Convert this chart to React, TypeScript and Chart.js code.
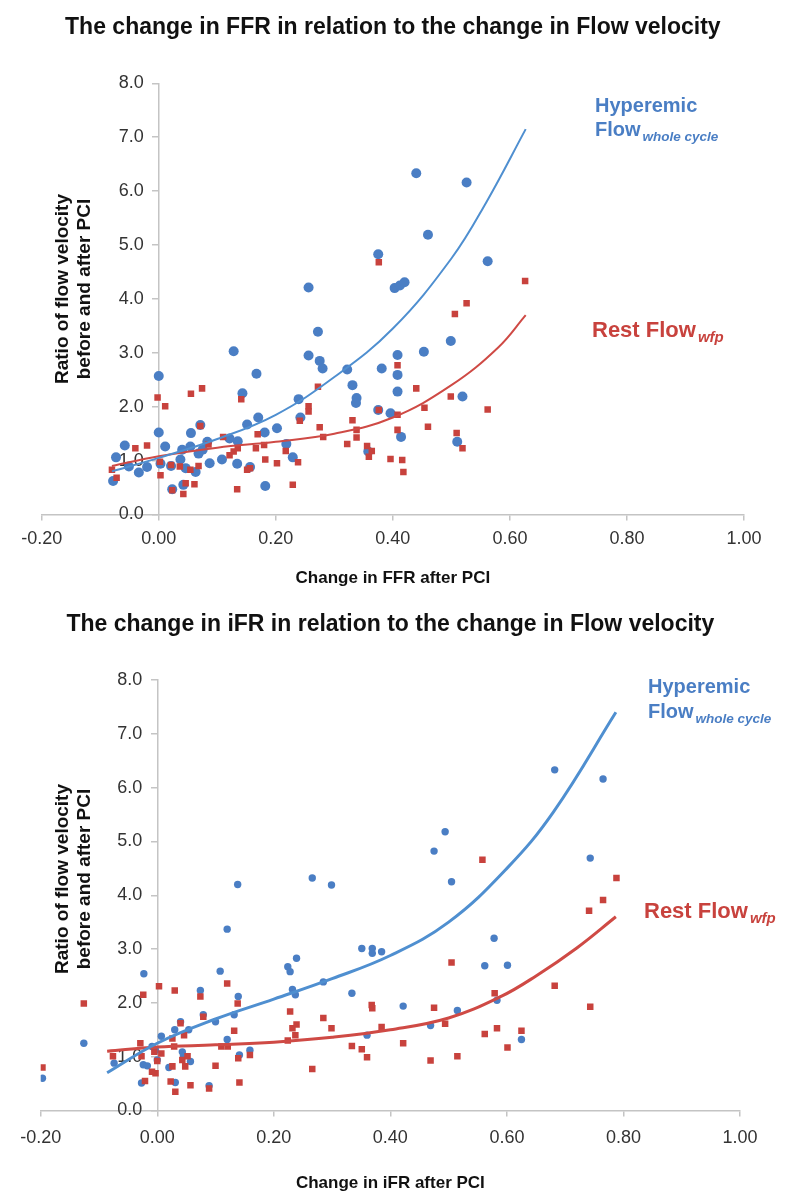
import React, { useEffect, useRef } from 'react';
import { Chart, registerables } from 'chart.js';

Chart.register(...registerables);

const FONT = '"Liberation Sans", Arial, Helvetica, sans-serif';
const BLUE = '#4a7ec4';
const BLUE_LINE = '#4f8fd0';
const RED = '#c8423d';
const RED_LINE = '#cf4a45';
const AXIS = '#c4c4c4';
const TICK_TEXT = '#333333';

// ---------- shared axis ticks ----------
const xTickValues = [-0.2, 0, 0.2, 0.4, 0.6, 0.8, 1.0];
const xTickLabels = ['-0.20', '0.00', '0.20', '0.40', '0.60', '0.80', '1.00'];
const yTickValues = [0, 1, 2, 3, 4, 5, 6, 7, 8];
const yTickLabels = ['0.0', '1.0', '2.0', '3.0', '4.0', '5.0', '6.0', '7.0', '8.0'];

// ---------- top chart: change in FFR ----------
const ffrHyperemic: [number, number][] = [
  [-0.078, 0.62], [-0.073, 1.06], [-0.058, 1.28], [-0.051, 0.89], [-0.034, 0.78], [-0.020, 0.88],
  [0.000, 2.57], [0.000, 1.52], [0.003, 0.94], [0.011, 1.26], [0.021, 0.90], [0.023, 0.47],
  [0.037, 1.02], [0.040, 1.20], [0.042, 0.55], [0.046, 0.86], [0.054, 1.26], [0.055, 1.51],
  [0.063, 0.79], [0.068, 1.13], [0.071, 1.66], [0.075, 1.20], [0.083, 1.35], [0.087, 0.95],
  [0.108, 1.02], [0.121, 1.41], [0.128, 3.03], [0.134, 0.94], [0.135, 1.36], [0.143, 2.25],
  [0.151, 1.67], [0.156, 0.88], [0.167, 2.61], [0.170, 1.80], [0.181, 1.52], [0.182, 0.53],
  [0.202, 1.60], [0.218, 1.31], [0.229, 1.06], [0.239, 2.14], [0.242, 1.80], [0.256, 2.95],
  [0.256, 4.21], [0.272, 3.39], [0.275, 2.85], [0.280, 2.71], [0.322, 2.69], [0.331, 2.40],
  [0.338, 2.16], [0.337, 2.07], [0.358, 1.17], [0.375, 1.94], [0.375, 4.83], [0.381, 2.71],
  [0.396, 1.88], [0.403, 4.20], [0.408, 2.96], [0.408, 2.59], [0.408, 2.28], [0.412, 4.25],
  [0.414, 1.44], [0.420, 4.31], [0.440, 6.33], [0.453, 3.02], [0.460, 5.19], [0.499, 3.22],
  [0.510, 1.35], [0.519, 2.19], [0.526, 6.16], [0.562, 4.70],
];
const ffrRest: [number, number][] = [
  [-0.080, 0.83], [-0.072, 0.68], [-0.040, 1.23], [-0.020, 1.28], [-0.002, 2.17], [0.002, 0.98],
  [0.003, 0.73], [0.011, 2.01], [0.021, 0.92], [0.023, 0.45], [0.036, 0.89], [0.042, 0.38],
  [0.046, 0.58], [0.054, 0.83], [0.055, 2.24], [0.061, 0.56], [0.068, 0.90], [0.071, 1.64],
  [0.074, 2.34], [0.085, 1.30], [0.110, 1.44], [0.121, 1.10], [0.128, 1.17], [0.134, 0.47],
  [0.135, 1.23], [0.141, 2.14], [0.151, 0.83], [0.156, 0.86], [0.166, 1.23], [0.169, 1.49],
  [0.180, 1.29], [0.182, 1.02], [0.202, 0.95], [0.217, 1.18], [0.229, 0.55], [0.238, 0.97],
  [0.241, 1.74], [0.256, 2.01], [0.256, 1.91], [0.272, 2.37], [0.275, 1.62], [0.281, 1.44],
  [0.322, 1.31], [0.331, 1.75], [0.338, 1.57], [0.338, 1.43], [0.356, 1.27], [0.359, 1.07],
  [0.364, 1.18], [0.376, 1.94], [0.376, 4.68], [0.396, 1.03], [0.408, 2.77], [0.408, 1.85],
  [0.408, 1.57], [0.416, 1.01], [0.418, 0.79], [0.440, 2.34], [0.454, 1.98], [0.460, 1.63],
  [0.499, 2.19], [0.506, 3.72], [0.509, 1.51], [0.519, 1.23], [0.526, 3.92], [0.562, 1.95],
  [0.626, 4.33],
];
const ffrHyperemicTrend: [number, number][] = [
  [-0.08, 0.80], [0.0, 1.05], [0.1, 1.40], [0.2, 1.85], [0.3, 2.55], [0.4, 3.45], [0.5, 4.75],
  [0.56, 5.80], [0.627, 7.15],
];
const ffrRestTrend: [number, number][] = [
  [-0.08, 0.90], [0.0, 1.08], [0.1, 1.24], [0.2, 1.35], [0.3, 1.50], [0.4, 1.80], [0.5, 2.40],
  [0.58, 3.10], [0.627, 3.70],
];

// ---------- bottom chart: change in iFR ----------
const ifrHyperemic: [number, number][] = [
  [-0.197, 0.60], [-0.126, 1.25], [-0.074, 0.88], [-0.023, 2.54], [-0.027, 0.51], [-0.024, 0.85],
  [-0.017, 0.83], [-0.009, 1.19], [-0.003, 1.12], [0.000, 0.94], [0.007, 1.38], [0.020, 0.80],
  [0.030, 1.50], [0.031, 0.52], [0.040, 1.65], [0.043, 1.09], [0.045, 1.02], [0.054, 1.50],
  [0.057, 0.91], [0.074, 2.23], [0.079, 1.78], [0.089, 0.46], [0.100, 1.65], [0.108, 2.59],
  [0.120, 3.37], [0.120, 1.32], [0.132, 1.78], [0.138, 4.20], [0.139, 2.12], [0.141, 1.03],
  [0.159, 1.12], [0.224, 2.67], [0.228, 2.58], [0.232, 2.25], [0.237, 2.15], [0.239, 2.83],
  [0.266, 4.32], [0.285, 2.39], [0.299, 4.19], [0.334, 2.18], [0.351, 3.01], [0.360, 1.40],
  [0.369, 3.01], [0.369, 2.92], [0.385, 2.95], [0.422, 1.94], [0.469, 1.58], [0.475, 4.82],
  [0.494, 5.18], [0.505, 4.25], [0.515, 1.86], [0.562, 2.69], [0.578, 3.20], [0.583, 2.05],
  [0.601, 2.70], [0.625, 1.32], [0.682, 6.33], [0.743, 4.69], [0.765, 6.16],
];
const ifrRest: [number, number][] = [
  [-0.197, 0.80], [-0.126, 1.99], [-0.076, 1.01], [-0.024, 2.15], [-0.029, 1.25], [-0.027, 1.01],
  [-0.021, 0.55], [-0.009, 0.72], [-0.005, 1.09], [-0.003, 0.69], [0.000, 0.92], [0.003, 2.31],
  [0.007, 1.06], [0.023, 0.54], [0.026, 1.34], [0.026, 0.82], [0.029, 1.19], [0.031, 0.35],
  [0.030, 2.23], [0.040, 1.62], [0.043, 0.94], [0.046, 1.40], [0.048, 0.82], [0.052, 1.01],
  [0.057, 0.47], [0.074, 2.12], [0.079, 1.74], [0.089, 0.41], [0.100, 0.83], [0.110, 1.19],
  [0.120, 2.36], [0.121, 1.19], [0.132, 1.48], [0.138, 1.99], [0.139, 0.97], [0.141, 0.52],
  [0.159, 1.03], [0.224, 1.30], [0.228, 1.84], [0.232, 1.53], [0.237, 1.40], [0.239, 1.60],
  [0.266, 0.77], [0.285, 1.72], [0.299, 1.53], [0.334, 1.20], [0.351, 1.14], [0.360, 0.99],
  [0.368, 1.96], [0.369, 1.90], [0.385, 1.55], [0.422, 1.25], [0.469, 0.93], [0.475, 1.91],
  [0.494, 1.61], [0.505, 2.75], [0.515, 1.01], [0.558, 4.66], [0.562, 1.42], [0.579, 2.18],
  [0.583, 1.53], [0.601, 1.17], [0.625, 1.48], [0.682, 2.32], [0.741, 3.71], [0.743, 1.93],
  [0.765, 3.91], [0.788, 4.32],
];
const ifrHyperemicTrend: [number, number][] = [
  [-0.086, 0.70], [0.0, 1.25], [0.1, 1.70], [0.2, 2.07], [0.3, 2.45], [0.4, 2.88], [0.5, 3.50],
  [0.6, 4.50], [0.68, 5.55], [0.787, 7.40],
];
const ifrRestTrend: [number, number][] = [
  [-0.086, 1.10], [0.0, 1.18], [0.1, 1.22], [0.2, 1.27], [0.3, 1.36], [0.4, 1.50], [0.5, 1.72],
  [0.59, 2.12], [0.65, 2.50], [0.72, 3.02], [0.787, 3.60],
];

type PanelCfg = {
  title: string;
  xTitle: string;
  hyper: [number, number][];
  rest: [number, number][];
  hyperTrend: [number, number][];
  restTrend: [number, number][];
  height: number;
  top: number;
  pad: { left: number; right: number; top: number; bottom: number };
  circleR: number;
  rectR: number;
  lineW: number;
  xTickPad: number;
  titleY: number;
  xTitleY: number;
  yTitleY: number;
  hyperLabel: { x: number; y1: number; y2: number };
  restLabel: { x: number; y: number };
};

const toXY = (arr: [number, number][]) => arr.map(([x, y]) => ({ x, y }));

function Panel({ cfg }: { cfg: PanelCfg }) {
  const ref = useRef<HTMLCanvasElement>(null);
  useEffect(() => {
    const decor = {
      id: 'decor',
      afterDraw(chart: any) {
        const ctx = chart.ctx as CanvasRenderingContext2D;
        const area = chart.chartArea;
        const cx = (area.left + area.right) / 2;
        ctx.save();
        ctx.fillStyle = '#111111';
        ctx.textAlign = 'center';
        ctx.textBaseline = 'middle';
        ctx.font = `bold 23px ${FONT}`;
        ctx.fillText(cfg.title, cx, cfg.titleY);
        ctx.font = `bold 17px ${FONT}`;
        ctx.fillText(cfg.xTitle, cx, cfg.xTitleY);
        // y title (two lines, rotated)
        ctx.save();
        ctx.translate(0, cfg.yTitleY);
        ctx.rotate(-Math.PI / 2);
        ctx.font = `bold 19px ${FONT}`;
        ctx.fillText('Ratio of flow velocity', 0, 63);
        ctx.fillText('before and after PCI', 0, 85);
        ctx.restore();
        // series labels
        ctx.textAlign = 'left';
        ctx.textBaseline = 'alphabetic';
        const h = cfg.hyperLabel;
        ctx.fillStyle = BLUE;
        ctx.font = `bold 20px ${FONT}`;
        ctx.fillText('Hyperemic', h.x, h.y1);
        ctx.fillText('Flow', h.x, h.y2);
        const fw = ctx.measureText('Flow').width;
        ctx.font = `italic bold 13.5px ${FONT}`;
        ctx.fillText('whole cycle', h.x + fw + 2, h.y2 + 5);
        const r = cfg.restLabel;
        ctx.fillStyle = RED;
        ctx.font = `bold 22px ${FONT}`;
        ctx.fillText('Rest Flow', r.x, r.y);
        const rw = ctx.measureText('Rest Flow').width;
        ctx.font = `italic bold 15px ${FONT}`;
        ctx.fillText('wfp', r.x + rw + 2, r.y + 5);
        ctx.restore();
      },
    };

    const chart = new Chart(ref.current as HTMLCanvasElement, {
      type: 'scatter',
      data: {
        datasets: [
          {
            type: 'line',
            data: toXY(cfg.hyperTrend),
            borderColor: BLUE_LINE,
            borderWidth: cfg.lineW,
            pointRadius: 0,
            fill: false,
            tension: 0.4,
          } as any,
          {
            type: 'line',
            data: toXY(cfg.restTrend),
            borderColor: RED_LINE,
            borderWidth: cfg.lineW,
            pointRadius: 0,
            fill: false,
            tension: 0.4,
          } as any,
          {
            data: toXY(cfg.rest),
            pointStyle: 'rect',
            pointRadius: cfg.rectR,
            backgroundColor: RED,
            borderWidth: 0,
          },
          {
            data: toXY(cfg.hyper),
            pointStyle: 'circle',
            pointRadius: cfg.circleR,
            backgroundColor: BLUE,
            borderWidth: 0,
          },
        ],
      },
      options: {
        responsive: false,
        maintainAspectRatio: false,
        animation: false,
        events: [],
        layout: { padding: cfg.pad },
        plugins: {
          legend: { display: false },
          tooltip: { enabled: false },
          title: { display: false },
        },
        scales: {
          x: {
            type: 'linear',
            position: 'bottom',
            min: -0.2,
            max: 1.0,
            afterBuildTicks: (s: any) => {
              s.ticks = xTickValues.map((v) => ({ value: v }));
            },
            afterFit: (s: any) => {
              s.height = 40;
            },
            ticks: {
              callback: (_v: any, i: number) => xTickLabels[i],
              font: { family: FONT, size: 18 },
              color: TICK_TEXT,
              padding: cfg.xTickPad,
              maxRotation: 0,
              autoSkip: false,
            },
            grid: { drawOnChartArea: false, drawTicks: true, tickLength: 6, color: AXIS, lineWidth: 1.5 },
            border: { color: AXIS, width: 1.5 },
          },
          y: {
            type: 'linear',
            position: { x: 0 } as any,
            min: 0,
            max: 8,
            afterBuildTicks: (s: any) => {
              s.ticks = yTickValues.map((v) => ({ value: v }));
            },
            ticks: {
              callback: (_v: any, i: number) => yTickLabels[i] + '   ',
              font: { family: FONT, size: 18 },
              color: TICK_TEXT,
              autoSkip: false,
            },
            grid: { drawOnChartArea: false, drawTicks: true, tickLength: 6, color: AXIS, lineWidth: 1.5 },
            border: { color: AXIS, width: 1.5 },
          },
        },
      } as any,
      plugins: [decor],
    });
    return () => chart.destroy();
  }, []);
  return (
    <canvas
      ref={ref}
      width={800}
      height={cfg.height}
      style={{ position: 'absolute', left: 0, top: cfg.top, display: 'block' }}
    />
  );
}

const topCfg: PanelCfg = {
  title: 'The change in FFR in relation to the change in Flow velocity',
  xTitle: 'Change in FFR after PCI',
  hyper: ffrHyperemic,
  rest: ffrRest,
  hyperTrend: ffrHyperemicTrend,
  restTrend: ffrRestTrend,
  height: 600,
  top: 0,
  pad: { left: 41.7, right: 56, top: 83.3, bottom: 45.5 },
  circleR: 5,
  rectR: 4.6,
  lineW: 2,
  xTickPad: 8,
  titleY: 28,
  xTitleY: 578,
  yTitleY: 289,
  hyperLabel: { x: 595, y1: 112, y2: 136 },
  restLabel: { x: 592, y: 337 },
};

const bottomCfg: PanelCfg = {
  title: 'The change in iFR in relation to the change in Flow velocity',
  xTitle: 'Change in iFR after PCI',
  hyper: ifrHyperemic,
  rest: ifrRest,
  hyperTrend: ifrHyperemicTrend,
  restTrend: ifrRestTrend,
  height: 603,
  top: 600,
  pad: { left: 40.7, right: 60, top: 80, bottom: 52.5 },
  circleR: 3.7,
  rectR: 4.6,
  lineW: 3,
  xTickPad: 11,
  titleY: 25,
  xTitleY: 583,
  yTitleY: 279,
  hyperLabel: { x: 648, y1: 93, y2: 118 },
  restLabel: { x: 644, y: 318 },
};

export default function App() {
  return (
    <div style={{ position: 'absolute', left: 0, top: 0, width: 800, height: 1203, background: '#ffffff' }}>
      <Panel cfg={topCfg} />
      <Panel cfg={bottomCfg} />
    </div>
  );
}
